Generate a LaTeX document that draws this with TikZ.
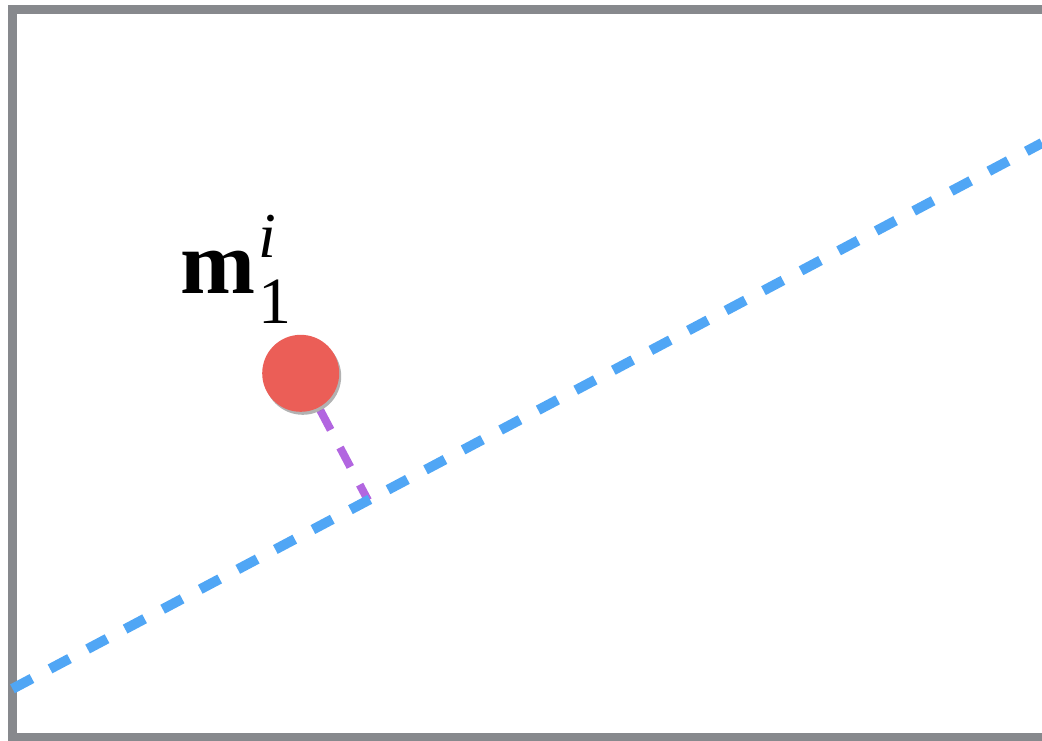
\documentclass[tikz,border=0pt]{standalone}
\usepackage{fontspec}
\setmainfont{Liberation Serif}
\usetikzlibrary{calc, shadows}
\definecolor{framegray}{RGB}{135,137,141}
\definecolor{fitblue}{RGB}{80,166,245}
\definecolor{residpurple}{RGB}{178,102,224}
\definecolor{pointred}{RGB}{235,94,87}
\tikzset{
  frame/.style={draw=framegray, line width=9pt},
  fitline/.style={draw=fitblue, line width=10pt, dash pattern=on 22pt off 20.5pt},
  residual/.style={draw=residpurple, line width=8pt, dash pattern=on 22pt off 20pt},
  meas/.style={circle, fill=pointred, minimum size=77pt, inner sep=0pt,
    drop shadow={shadow xshift=2pt, shadow yshift=-3pt, opacity=0.3, fill=black}},
  mlabel/.style={anchor=base west, inner sep=0pt}
}

\begin{document}
\begin{tikzpicture}[x=1pt, y=-1pt]
\useasboundingbox (0,0) rectangle (1042,740);

%% Frame
\draw[frame] (12.5,9.5) rectangle (1060,737.5);

%% Line end points and measurement position
\coordinate (la) at (12.5,688.8);
\coordinate (lb) at (1042,143);
\coordinate (mc) at (300.7,373.3);
\coordinate (foot) at ($(la)!(mc)!(lb)$);

%% Residual to the line
\draw[residual] (mc) -- (foot);

%% Fitted line
\draw[fitline] (la) -- (lb);

%% Measurement
\node[meas] (m1) at (mc) {};
\node[mlabel] (m1lbl) at (180,293)
  {\fontsize{90}{90}\selectfont\bfseries m\kern3pt%
   \rlap{\raisebox{36pt}{\fontsize{64}{64}\selectfont\mdseries\itshape i}}%
   \raisebox{-30pt}{\fontsize{66}{66}\selectfont\mdseries 1}};

\end{tikzpicture}
\end{document}
